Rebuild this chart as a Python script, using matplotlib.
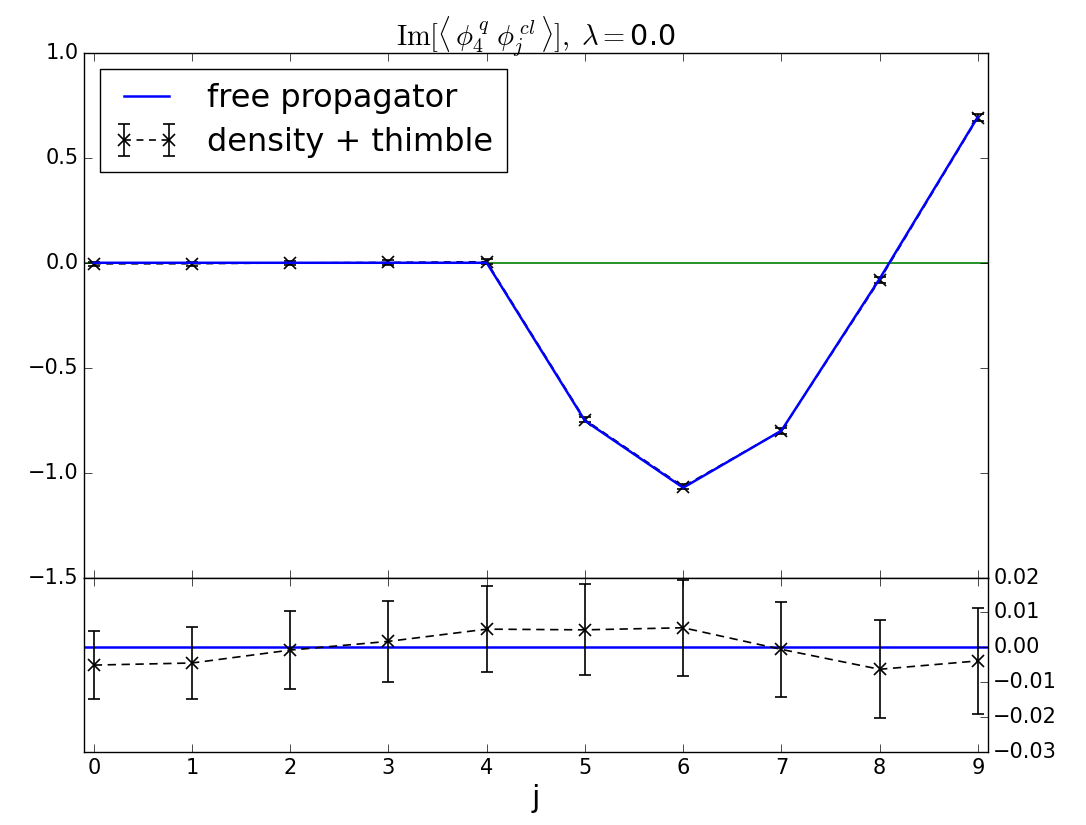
import numpy as np
import matplotlib
matplotlib.use("Agg")
import matplotlib.pyplot as plt

plt.style.use('classic')
plt.rcParams['mathtext.fontset'] = 'cm'
plt.rcParams['font.family'] = ['DejaVu Sans']

j = [0, 1, 2, 3, 4, 5, 6, 7, 8, 9]
free_prop = [0.0, 0.0, 0.0, 0.0, 0.0, -0.753, -1.072, -0.800, -0.076, 0.696]
residual = [-0.0051, -0.0045, -0.0008, 0.0017, 0.0052, 0.0050, 0.0056, -0.0006, -0.0063, -0.0039]
errors = [0.0097, 0.0104, 0.0112, 0.0116, 0.0124, 0.0130, 0.0137, 0.0136, 0.0140, 0.0153]

density = [f + r for f, r in zip(free_prop, residual)]

fig = plt.figure(figsize=(10.86, 8.25), dpi=100, facecolor='white')
ax1 = fig.add_axes([0.0773, 0.300, 0.8322, 0.6358])
ax2 = fig.add_axes([0.0773, 0.0885, 0.8322, 0.2115], sharex=ax1)
for ax in (ax1, ax2):
    ax.set_facecolor('white')

ax1.axhline(0, color='green', lw=1.2, zorder=1)
ax1.errorbar(j, density, yerr=errors, fmt='x--', color='black', ecolor='black',
             ms=9, mew=1.2, lw=1.2, capsize=4, dashes=(5, 4),
             label='density + thimble', zorder=2)
ax1.plot(j, free_prop, '-', color='blue', lw=1.8, label='free propagator', zorder=3)
ax1.set_ylim(-1.5, 1.0)
ax1.set_yticks([-1.5, -1.0, -0.5, 0.0, 0.5, 1.0])
ax1.tick_params(labelsize=15, labelbottom=False, length=6)
ax1.set_title(r'$\mathrm{Im}[\langle\,\phi_4^{\,q}\;\phi_j^{\,cl}\,\rangle],\;\lambda=$0.0', fontsize=20.5)
h, l = ax1.get_legend_handles_labels()
order = [l.index('free propagator'), l.index('density + thimble')]
leg = ax1.legend([h[i] for i in order], [l[i] for i in order], loc='upper left',
                 fontsize=23, numpoints=2, borderaxespad=0.5, handlelength=2.0,
                 handletextpad=0.9, labelspacing=0.4, borderpad=0.45)

ax2.axhline(0, color='blue', lw=1.8, zorder=1)
ax2.errorbar(j, residual, yerr=errors, fmt='x--', color='black', ecolor='black',
             ms=9, mew=1.2, lw=1.2, capsize=4, dashes=(6, 4), zorder=2)
ax2.set_ylim(-0.03, 0.02)
ax2.set_yticks([-0.03, -0.02, -0.01, 0.0, 0.01, 0.02])
ax2.yaxis.tick_right()
ax2.yaxis.set_ticks_position('right')
ax2.tick_params(labelsize=15, length=6)
ax2.set_xlim(-0.1, 9.1)
ax2.set_xticks(j)
ax2.set_xlabel('j', fontsize=22)

fig.savefig('out.png', dpi=100, facecolor='white')
